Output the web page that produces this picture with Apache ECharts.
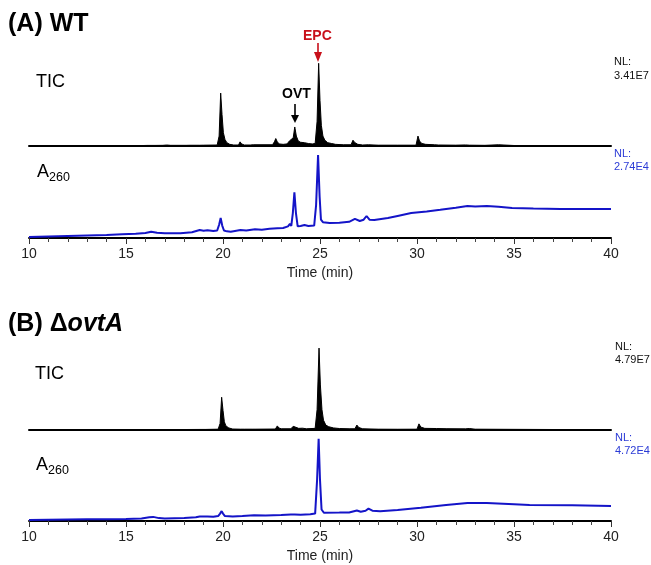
<!DOCTYPE html>
<html>
<head>
<meta charset="utf-8">
<script src="https://cdn.jsdelivr.net/npm/echarts@6/dist/echarts.min.js"></script>
<style>
  html, body { margin: 0; padding: 0; background: #fff; }
  #chart { width: 651px; height: 565px; }
</style>
</head>
<body>
<div id="chart"></div>
<script>
// [time (min), relative intensity %]
const wtTic = [
  [10.0, 0.4], [11.0, 0.5], [12.0, 0.4], [13.0, 0.5], [14.0, 0.5], [15.0, 0.6],
  [15.9, 0.6], [16.0, 1.4], [16.1, 0.7], [16.5, 0.7], [16.55, 1.2], [16.6, 0.7],
  [16.9, 0.8], [17.0, 3], [17.1, 1.2], [17.3, 0.8], [18.1, 0.8], [18.2, 1.8], [18.3, 0.9],
  [18.8, 0.9], [18.9, 2], [19.0, 1], [19.7, 1.2], [19.8, 12], [19.88, 64], [19.95, 38],
  [20.02, 16], [20.1, 8], [20.2, 4], [20.35, 2], [20.55, 1.2], [20.8, 1.2], [20.88, 5],
  [20.96, 2.5], [21.1, 1.2], [21.4, 1.2], [21.48, 3.5], [21.56, 1.5], [22.55, 1.5],
  [22.65, 5], [22.72, 9], [22.8, 5], [22.9, 2.5], [23.1, 2], [23.3, 2.5], [23.42, 6],
  [23.52, 4], [23.62, 10], [23.7, 23], [23.78, 12], [23.88, 6], [24.0, 4.5], [24.2, 4],
  [24.4, 3], [24.6, 2.5], [24.75, 3], [24.85, 30], [24.93, 100], [25.0, 55], [25.07, 25],
  [25.15, 12], [25.25, 7], [25.4, 4], [25.6, 3], [25.8, 2], [26.2, 1.5], [26.6, 1.5],
  [26.7, 7], [26.8, 4], [26.95, 2], [27.2, 1.2], [27.5, 1.5], [28.0, 1], [29.0, 1],
  [29.95, 1], [30.05, 12], [30.13, 6], [30.25, 3], [30.45, 2], [30.9, 1.5], [31.0, 2.5],
  [31.1, 1.2], [32.0, 1], [32.5, 1.3], [32.6, 2], [32.7, 1], [33.5, 0.8], [34.2, 1.5],
  [34.3, 0.8], [35.0, 0.6], [37.0, 0.5], [40.0, 0.5]
];
const wtA260 = [
  [10.0, 1.2], [11.0, 1.8], [12.0, 2.4], [13.0, 3], [14.0, 3.6], [14.8, 4.5], [15.5, 5],
  [16.0, 6], [16.3, 7.6], [16.6, 6.4], [17.0, 5.8], [17.8, 5.7], [18.4, 7], [18.8, 9.6],
  [19.0, 8.8], [19.2, 9.4], [19.5, 8.4], [19.7, 9], [19.8, 16], [19.88, 24], [19.96, 15],
  [20.05, 9], [20.2, 8], [20.4, 7.6], [20.9, 9.6], [21.2, 9], [21.65, 10.5], [22.0, 10],
  [22.4, 11], [22.8, 11.7], [23.1, 12], [23.35, 14], [23.45, 17], [23.52, 14.5],
  [23.6, 30], [23.68, 55], [23.76, 30], [23.85, 14], [24.0, 14.5], [24.2, 15.7],
  [24.4, 14.5], [24.7, 15], [24.8, 40], [24.9, 100], [24.98, 50], [25.05, 22],
  [25.15, 19], [25.5, 18], [26.0, 18.5], [26.5, 19.5], [26.8, 23], [27.05, 20.5],
  [27.25, 22], [27.4, 26.5], [27.55, 22], [27.8, 21.7], [28.5, 24], [29.0, 26.5],
  [29.7, 30], [30.5, 32], [31.2, 34], [32.0, 36.5], [32.6, 38.5], [33.0, 38],
  [33.6, 38.5], [34.2, 37.5], [34.9, 36], [36.0, 35.5], [37.4, 35], [38.5, 35], [40.0, 35]
];
const koTic = [
  [10.0, 0.4], [12.0, 0.4], [14.0, 0.5], [16.0, 0.5], [16.95, 0.5], [17.05, 1.5],
  [17.15, 0.5], [17.9, 0.6], [18.0, 1], [18.1, 0.6], [18.9, 0.7], [19.0, 1.2], [19.1, 0.7],
  [19.75, 1], [19.85, 8], [19.93, 40], [20.0, 24], [20.07, 10], [20.15, 5], [20.3, 2.5],
  [20.5, 1.2], [20.9, 1], [21.0, 2.5], [21.1, 1], [21.5, 1], [21.6, 2.3], [21.7, 1],
  [22.7, 1.2], [22.8, 5], [22.88, 2.5], [23.0, 1.5], [23.5, 1.5], [23.62, 4.5],
  [23.72, 3], [23.9, 2], [24.1, 2.2], [24.3, 1.5], [24.75, 2], [24.85, 25], [24.95, 100],
  [25.02, 55], [25.1, 25], [25.18, 12], [25.3, 6], [25.45, 4], [25.7, 2.5], [26.0, 1.8],
  [26.5, 1.5], [26.8, 1.5], [26.9, 6], [27.0, 3], [27.2, 1.5], [28.0, 1], [29.0, 0.9],
  [30.0, 1], [30.1, 7.5], [30.2, 3.5], [30.4, 2], [31.0, 1.8], [31.5, 1.6], [32.5, 1.4],
  [32.7, 1.8], [33.0, 1], [35.0, 0.8], [37.0, 0.6], [40.0, 0.5]
];
const koA260 = [
  [10.0, 1.2], [11.0, 1.5], [12.0, 1.8], [13.0, 2], [14.0, 2.2], [15.0, 2.4], [15.8, 3],
  [16.2, 4.5], [16.4, 5], [16.7, 3.5], [17.0, 3], [18.0, 3.5], [18.6, 4.5], [18.8, 5.5],
  [19.2, 5.5], [19.5, 5.2], [19.75, 6], [19.85, 9], [19.93, 12], [20.0, 9], [20.1, 6],
  [20.5, 5.5], [21.0, 6], [21.6, 7], [22.2, 6.8], [23.0, 7.3], [23.5, 8], [23.6, 10],
  [23.7, 8], [24.0, 7.5], [24.5, 8.2], [24.75, 9], [24.85, 50], [24.93, 100], [25.0, 50],
  [25.08, 14], [25.2, 10], [26.0, 10.2], [26.5, 10.4], [26.9, 12.8], [27.1, 11.2],
  [27.35, 12.5], [27.5, 15], [27.7, 12.5], [28.1, 12], [29.0, 13.5], [30.2, 16],
  [31.5, 19.5], [32.6, 22], [33.6, 22], [35.0, 20.5], [35.8, 19.5], [38.0, 19], [40.0, 18.3]
];
const nlValues = ['3.41E7', '2.74E4', '4.79E7', '4.72E4'];
const timeRange = [10, 40];

const FONT = '"Liberation Sans", Arial, sans-serif';
const BLUE = '#1414c8';
const NLBLUE = '#2b3bd6';
const RED = '#c8101a';

function makeX(i, full) {
  return {
    gridIndex: i, type: 'value', min: timeRange[0], max: timeRange[1], interval: 5,
    axisLine: { show: true, onZero: false, lineStyle: { color: '#000', width: 2 } },
    axisTick: { show: full, length: 6, lineStyle: { color: '#333' } },
    minorTick: { show: full, splitNumber: 5, length: 4, lineStyle: { color: '#444' } },
    splitLine: { show: false },
    axisLabel: { show: full, margin: 9, fontSize: 14, color: '#222', fontFamily: FONT },
    name: full ? 'Time (min)' : '', nameLocation: 'middle', nameGap: 28,
    nameTextStyle: { fontSize: 14, color: '#222', fontFamily: FONT }
  };
}
function makeY(i, max) {
  return { gridIndex: i, type: 'value', min: 0, max: max, show: false };
}
function txt(x, y, text, size, color, weight) {
  return {
    type: 'text', x: x, y: y,
    style: { text: text, fontSize: size, fontFamily: FONT, fontWeight: weight || 'normal',
      fill: color || '#000', align: 'left', verticalAlign: 'middle' }
  };
}
function ticSeries(i, data) {
  return {
    type: 'line', xAxisIndex: i, yAxisIndex: i, data: data, showSymbol: false,
    lineStyle: { color: '#000', width: 1 }, areaStyle: { color: '#000', opacity: 1 }
  };
}
function uvSeries(i, data) {
  return {
    type: 'line', xAxisIndex: i, yAxisIndex: i, data: data, showSymbol: false,
    lineStyle: { color: BLUE, width: 2 }
  };
}

const chart = echarts.init(document.getElementById('chart'));
chart.setOption({
  animation: false,
  backgroundColor: '#fff',
  grid: [
    { left: 29, right: 40, top: 60, height: 86 },
    { left: 29, right: 40, top: 150, height: 88 },
    { left: 29, right: 40, top: 344, height: 86 },
    { left: 29, right: 40, top: 433, height: 88 }
  ],
  xAxis: [makeX(0, false), makeX(1, true), makeX(2, false), makeX(3, true)],
  yAxis: [makeY(0, 104), makeY(1, 106), makeY(2, 105), makeY(3, 107)],
  series: [ticSeries(0, wtTic), uvSeries(1, wtA260), ticSeries(2, koTic), uvSeries(3, koA260)],
  graphic: [
    txt(8, 24, '(A) WT', 25, '#000', 'bold'),
    txt(36, 82, 'TIC', 18),
    txt(37, 172, 'A', 18),
    txt(49, 178, '260', 12.5),
    txt(614, 62, 'NL:', 11, '#111'),
    txt(614, 76, nlValues[0], 11, '#111'),
    txt(614, 154, 'NL:', 11, NLBLUE),
    txt(614, 167, nlValues[1], 11, NLBLUE),
    txt(282, 94, 'OVT', 14, '#000', 'bold'),
    txt(303, 36, 'EPC', 14, RED, 'bold'),
    { type: 'line', shape: { x1: 295, y1: 104, x2: 295, y2: 117 }, style: { stroke: '#000', lineWidth: 1.6 } },
    { type: 'polygon', shape: { points: [[291, 115], [299, 115], [295, 123]] }, style: { fill: '#000' } },
    { type: 'line', shape: { x1: 318, y1: 43, x2: 318, y2: 54 }, style: { stroke: RED, lineWidth: 1.6 } },
    { type: 'polygon', shape: { points: [[314, 52], [322, 52], [318, 62]] }, style: { fill: RED } },
    {
      type: 'text', x: 8, y: 324,
      style: {
        text: '{n|(B) Δ}{i|ovtA}', verticalAlign: 'middle', align: 'left',
        rich: {
          n: { fontSize: 25, fontWeight: 'bold', fontFamily: FONT, fill: '#000' },
          i: { fontSize: 25, fontWeight: 'bold', fontStyle: 'italic', fontFamily: FONT, fill: '#000' }
        }
      }
    },
    txt(35, 374, 'TIC', 18),
    txt(36, 465, 'A', 18),
    txt(48, 471, '260', 12.5),
    txt(615, 347, 'NL:', 11, '#111'),
    txt(615, 360, nlValues[2], 11, '#111'),
    txt(615, 438, 'NL:', 11, NLBLUE),
    txt(615, 451, nlValues[3], 11, NLBLUE)
  ]
});
</script>
</body>
</html>
